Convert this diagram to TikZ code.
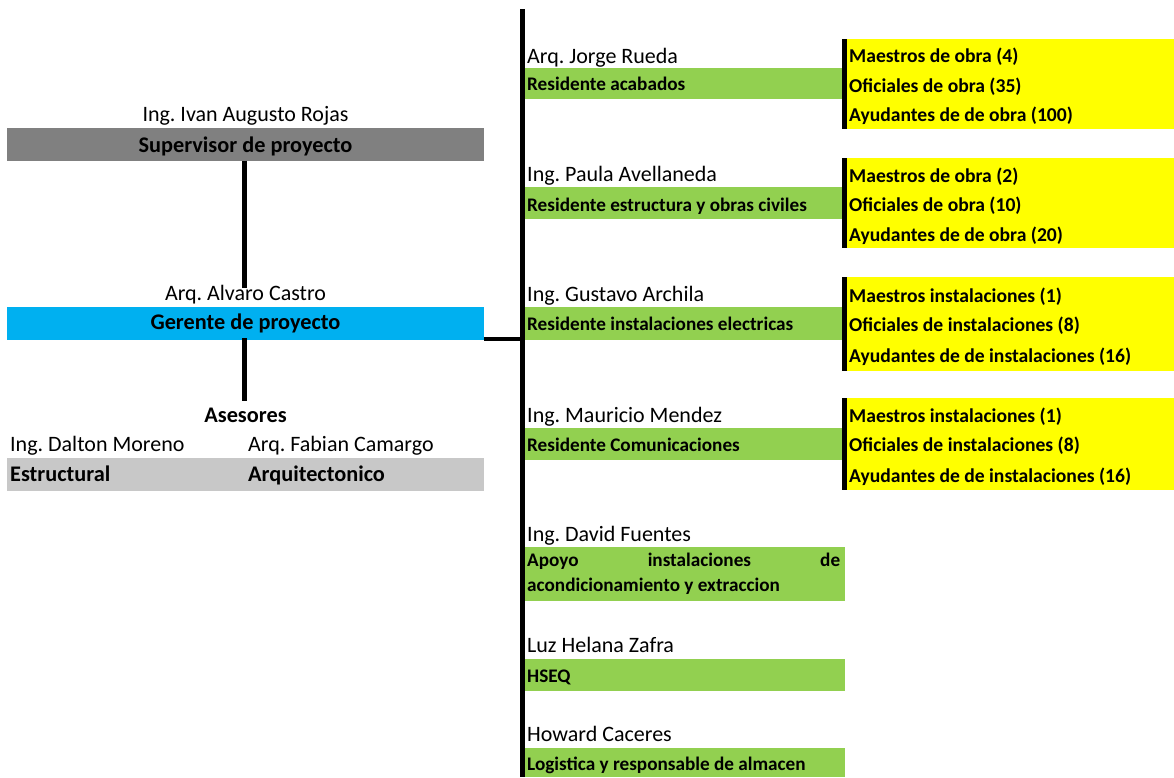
\documentclass[tikz,border=0pt]{standalone}
\usepackage{fontspec}
\setmainfont{Carlito}
\definecolor{supgray}{HTML}{808080}
\definecolor{gerblue}{HTML}{00B0F0}
\definecolor{asegray}{HTML}{C8C8C8}
\definecolor{resgreen}{HTML}{92D050}
\definecolor{crewyellow}{HTML}{FFFF00}
\frenchspacing
\begin{document}
\frenchspacing
\begin{tikzpicture}[x=1pt,y=-1pt,
  box/.style={draw=none,inner sep=0pt,outer sep=0pt,anchor=north west},
  leftbox/.style={box,minimum width=477pt,minimum height=32.5pt},
  greenbox/.style={box,fill=resgreen,minimum width=317pt},
  yellowbox/.style={box,fill=crewyellow,minimum width=332pt},
  namet/.style={anchor=base west,inner sep=0pt,font=\fontsize{22}{26}\selectfont},
  namec/.style={anchor=base,inner sep=0pt,font=\fontsize{22}{26}\selectfont},
  titlec/.style={anchor=base,inner sep=0pt,font=\bfseries\fontsize{22.3}{26}\selectfont},
  titlew/.style={anchor=base west,inner sep=0pt,font=\bfseries\fontsize{22.3}{26}\selectfont},
  rolet/.style={anchor=base west,inner sep=0pt,font=\bfseries\fontsize{19.2}{23}\selectfont},
  crew/.style={anchor=base west,inner sep=0pt,font=\bfseries\fontsize{19.6}{23}\selectfont},
  conn/.style={line width=4.5pt},
  bar/.style={line width=5pt}]
\useasboundingbox (0,0) rectangle (1174,777);

% ---------- left side ----------
\node[leftbox,fill=supgray] (sup) at (7,128) {};
\node[namec] (supname) at (245.5,121.7) {Ing. Ivan Augusto Rojas};
\node[titlec] (suptitle) at (245.5,152.5) {Supervisor de proyecto};

\node[leftbox,fill=gerblue,minimum height=33pt] (ger) at (7,307) {};
\node[namec] (gername) at (245.5,300) {Arq. Alvaro Castro};
\node[titlec] (gertitle) at (245.5,329.5) {Gerente de proyecto};

\node[leftbox,fill=asegray] (ase) at (7,458) {};
\node[titlec] (asetitle) at (245.5,422.5) {Asesores};
\node[namet] (dalton) at (10,451.7) {Ing. Dalton Moreno};
\node[namet] (fabian) at (248,451.7) {Arq. Fabian Camargo};
\node[titlew] (estr) at (10,481.7) {Estructural};
\node[titlew] (arq) at (248,481.7) {Arquitectonico};

\coordinate (supend) at (244.5,288);
\coordinate (asestart) at (244.5,338);
\coordinate (aseend) at (244.5,401);
\draw[conn] (sup.south -| supend) -- (supend);
\draw[conn] (asestart) -- (aseend);

% ---------- trunk ----------
\coordinate (trunktop) at (522.5,9);
\coordinate (trunkbot) at (522.5,777);
\coordinate (join) at (522.5,339);
\draw[conn] (trunktop) -- (trunkbot);
\draw[conn] (ger.east |- join) -- (join);

% ---------- residents ----------
\node[greenbox,minimum height=31pt] (r1) at (525,68) {};
\node[namet] (n1) at (527,63.3) {Arq. Jorge Rueda};
\node[rolet] (t1) at (527,90.7) {Residente acabados};

\node[greenbox,minimum height=32pt] (r2) at (525,187) {};
\node[namet] (n2) at (527,181.7) {Ing. Paula Avellaneda};
\node[rolet] (t2) at (527,211.5) {Residente estructura y obras civiles};

\node[greenbox,minimum height=33pt] (r3) at (525,307) {};
\node[namet] (n3) at (527,301.7) {Ing. Gustavo Archila};
\node[rolet] (t3) at (527,330) {Residente instalaciones electricas};

\node[greenbox,minimum height=32pt] (r4) at (525,428) {};
\node[namet] (n4) at (527,422.7) {Ing. Mauricio Mendez};
\node[rolet] (t4) at (527,451.7) {Residente Comunicaciones};

\node[greenbox,minimum width=320pt,minimum height=54pt] (r5) at (525,547) {};
\node[namet] (n5) at (527,541.7) {Ing. David Fuentes};
\node[rolet] (t5a) at (527,566.7) {\makebox[313pt][s]{Apoyo\hfill instalaciones\hfill de}};
\node[rolet] (t5b) at (527,591.7) {acondicionamiento y extraccion};

\node[greenbox,minimum width=320pt,minimum height=32pt] (r6) at (525,659) {};
\node[namet] (n6) at (527,652.7) {Luz Helana Zafra};
\node[rolet] (t6) at (527,682.3) {HSEQ};

\node[greenbox,minimum width=320pt,minimum height=29pt] (r7) at (525,748) {};
\node[namet] (n7) at (527,741.7) {Howard Caceres};
\node[rolet] (t7) at (527,770.7) {Logistica y responsable de almacen};

% ---------- crews ----------
\node[yellowbox,minimum height=90pt] (y1) at (842,39) {};
\draw[bar] ([xshift=2.5pt]y1.north west) -- ([xshift=2.5pt]y1.south west);
\node[crew] at (849,62.3) {Maestros de obra (4)};
\node[crew] at (849,92.3) {Oficiales de obra (35)};
\node[crew] at (849,121.7) {Ayudantes de de obra (100)};

\node[yellowbox,minimum height=90pt] (y2) at (842,158) {};
\draw[bar] ([xshift=2.5pt]y2.north west) -- ([xshift=2.5pt]y2.south west);
\node[crew] at (849,182) {Maestros de obra (2)};
\node[crew] at (849,211.7) {Oficiales de obra (10)};
\node[crew] at (849,241) {Ayudantes de de obra (20)};

\node[yellowbox,minimum height=94pt] (y3) at (842,277) {};
\draw[bar] ([xshift=2.5pt]y3.north west) -- ([xshift=2.5pt]y3.south west);
\node[crew] at (849,302.3) {Maestros instalaciones (1)};
\node[crew] at (849,331) {Oficiales de instalaciones (8)};
\node[crew] at (849,362.7) {Ayudantes de de instalaciones (16)};

\node[yellowbox,minimum height=92pt] (y4) at (842,398) {};
\draw[bar] ([xshift=2.5pt]y4.north west) -- ([xshift=2.5pt]y4.south west);
\node[crew] at (849,422.7) {Maestros instalaciones (1)};
\node[crew] at (849,451.7) {Oficiales de instalaciones (8)};
\node[crew] at (849,482.7) {Ayudantes de de instalaciones (16)};
\end{tikzpicture}
\end{document}
